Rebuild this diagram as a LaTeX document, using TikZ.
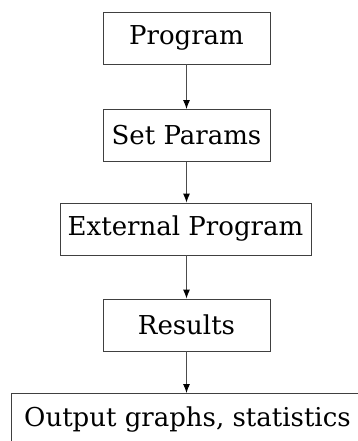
\documentclass[tikz,border=0pt]{standalone}
\usepackage{fontspec}
\setmainfont{DejaVu Serif}
\usetikzlibrary{arrows.meta}
\begin{document}
\begin{tikzpicture}[x=1pt,y=-1pt,
  stepbox/.style={draw=black!75,line width=0.9pt,fill=white,
    minimum width=167pt,minimum height=52pt,inner sep=0pt,
    font=\fontsize{26}{30}\selectfont},
  flow/.style={draw=black!70,line width=0.9pt,-{Latex[length=9pt,width=7pt,black]}}]
  \useasboundingbox (0,0) rectangle (358,441);
  \node[stepbox] (prog)   at (186.5,38)  {Program};
  \node[stepbox] (params) at (186.5,135.5) {Set Params};
  \node[stepbox,minimum width=251pt] (ext) at (185.5,229) {External Program};
  \node[stepbox] (res)    at (186.5,325) {Results};
  \node[stepbox,minimum width=352pt,anchor=north west] (out) at (11,393) {Output graphs, statistics};
  \draw[flow] (prog) -- (params);
  \draw[flow] (params) -- (ext.north -| params);
  \draw[flow] (ext.south -| res) -- (res);
  \draw[flow] (res) -- (res |- out.north);
\end{tikzpicture}
\end{document}
